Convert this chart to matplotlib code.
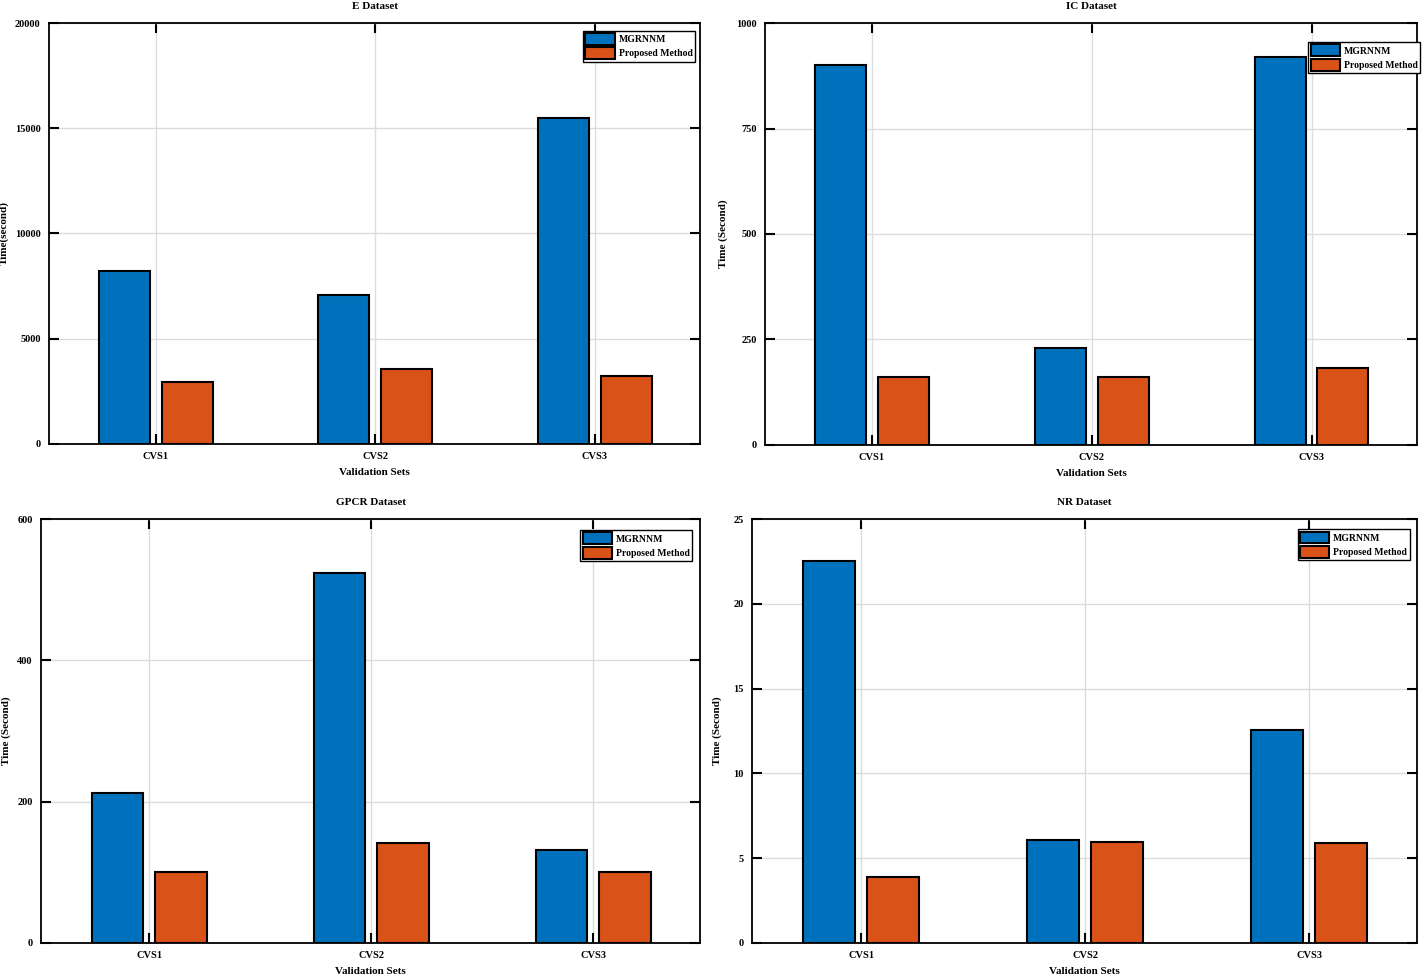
import numpy as np
import matplotlib.pyplot as plt

plt.rcParams['font.family'] = ['Liberation Serif', 'DejaVu Serif']
plt.rcParams['font.weight'] = 'bold'

sets = ["CVS1", "CVS2", "CVS3"]
series = ["MGRNNM", "Proposed Method"]
colors = ["#0072BD", "#D95319"]

e_mgrnnm = [8200, 7100, 15500]
e_proposed = [2950, 3560, 3230]

ic_mgrnnm = [900, 230, 920]
ic_proposed = [161, 161, 182]

gpcr_mgrnnm = [212, 523, 132]
gpcr_proposed = [100, 141, 100]

nr_mgrnnm = [22.5, 6.1, 12.55]
nr_proposed = [3.9, 5.95, 5.9]

panels = [
    dict(title="E Dataset", data=(e_mgrnnm, e_proposed), ylabel="Time(second)",
         ymax=20000, yticks=[0, 5000, 10000, 15000, 20000],
         rect=[0.0344, 0.547, 0.4572, 0.4295], leg=(0.992, 0.982), ylx=-0.061),
    dict(title="IC Dataset", data=(ic_mgrnnm, ic_proposed), ylabel="Time (Second)",
         ymax=1000, yticks=[0, 250, 500, 750, 1000],
         rect=[0.5372, 0.546, 0.4579, 0.4305], leg=(1.005, 0.955), ylx=-0.057),
    dict(title="GPCR Dataset", data=(gpcr_mgrnnm, gpcr_proposed), ylabel="Time (Second)",
         ymax=600, yticks=[0, 200, 400, 600],
         rect=[0.0288, 0.0378, 0.4628, 0.4326], leg=(0.988, 0.974), ylx=-0.046),
    dict(title="NR Dataset", data=(nr_mgrnnm, nr_proposed), ylabel="Time (Second)",
         ymax=25, yticks=[0, 5, 10, 15, 20, 25],
         rect=[0.5281, 0.0378, 0.4669, 0.4326], leg=(0.989, 0.976), ylx=-0.045),
]

fig = plt.figure(figsize=(14.24, 9.8), dpi=100)
x = np.arange(1, len(sets) + 1)
width = 0.232
offset = 0.143

for p in panels:
    ax = fig.add_axes(p["rect"])
    for i, (vals, name, c) in enumerate(zip(p["data"], series, colors)):
        pos = x - offset if i == 0 else x + offset
        ax.bar(pos, vals, width, color=c, edgecolor="black", linewidth=1.5,
               label=name, zorder=3)
    ax.set_xlim(0.513, 3.48)
    ax.set_ylim(0, p["ymax"])
    ax.set_xticks(x)
    ax.set_xticklabels(sets)
    ax.set_yticks(p["yticks"])
    ax.grid(True, color="#dcdcdc", linewidth=1.0, zorder=0)
    ax.set_axisbelow(True)
    ax.tick_params(direction="in", length=7, width=1.5, top=True, right=True,
                   labelsize=7.5, pad=6)
    for s in ax.spines.values():
        s.set_linewidth(1.3)
    ax.set_title(p["title"], fontsize=8, fontweight="bold", pad=10)
    ax.set_xlabel("Validation Sets", fontsize=8, fontweight="bold", labelpad=5)
    ax.set_ylabel(p["ylabel"], fontsize=8, fontweight="bold")
    ax.yaxis.set_label_coords(p["ylx"], 0.5)
    leg = ax.legend(loc="upper right", bbox_to_anchor=p["leg"], borderaxespad=0,
                    fontsize=7, fancybox=False, edgecolor="black", framealpha=1,
                    handlelength=3.0, handleheight=1.5, labelspacing=0.25,
                    borderpad=0.25, handletextpad=0.4)
    leg.get_frame().set_linewidth(1.0)

fig.savefig("out.png", dpi=100)
